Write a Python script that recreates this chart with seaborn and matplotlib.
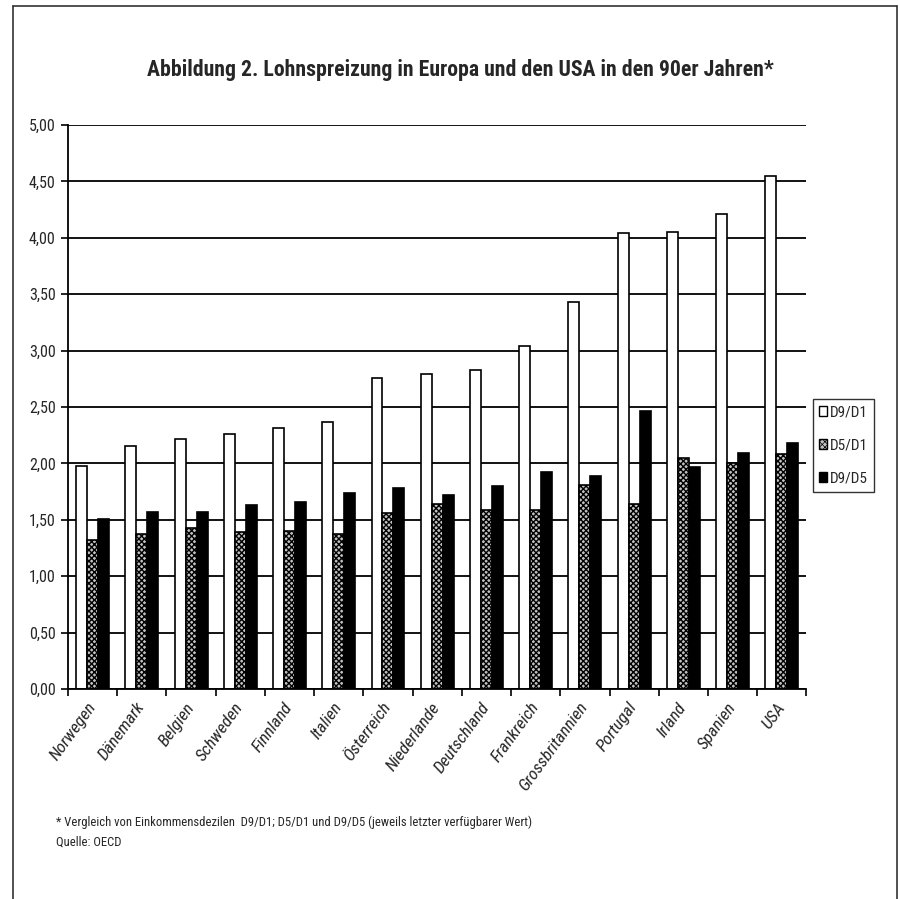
import matplotlib
matplotlib.use("Agg")
import matplotlib.pyplot as plt
from matplotlib import font_manager as fm
from matplotlib.lines import Line2D
from matplotlib.patches import Patch
from matplotlib.ticker import FuncFormatter, MultipleLocator, FixedLocator
import pandas as pd
import seaborn as sns

# Wage dispersion by country: income decile ratios
countries = ["Norwegen", "Dänemark", "Belgien", "Schweden", "Finnland", "Italien",
             "Österreich", "Niederlande", "Deutschland", "Frankreich",
             "Grossbritannien", "Portugal", "Irland", "Spanien", "USA"]
d9_d1 = [1.98, 2.15, 2.22, 2.26, 2.31, 2.37, 2.76, 2.79, 2.83, 3.04, 3.43, 4.04, 4.05, 4.21, 4.55]
d5_d1 = [1.32, 1.37, 1.43, 1.39, 1.40, 1.37, 1.56, 1.64, 1.59, 1.59, 1.81, 1.64, 2.05, 2.00, 2.08]
d9_d5 = [1.51, 1.57, 1.57, 1.63, 1.66, 1.74, 1.78, 1.72, 1.80, 1.92, 1.89, 2.46, 1.97, 2.09, 2.18]
series = ["D9/D1", "D5/D1", "D9/D5"]

title = "Abbildung 2. Lohnspreizung in Europa und den USA in den 90er Jahren*"
footnote = "* Vergleich von Einkommensdezilen  D9/D1; D5/D1 und D9/D5 (jeweils letzter verfügbarer Wert)"
source = "Quelle: OECD"

df = pd.DataFrame({
    "Land": countries * 3,
    "Serie": [s for s in series for _ in countries],
    "Wert": d9_d1 + d5_d1 + d9_d5,
})

sns.set_theme(style="white")
plt.rcParams["font.family"] = ["Liberation Sans", "DejaVu Sans"]


def narrow_font(weight="normal", italic=False):
    """Pick a condensed sans-serif face if one is installed."""
    wanted_names = ["Liberation Sans Narrow", "Arial Narrow", "Roboto Condensed",
                    "Open Sans Condensed"]
    fonts = fm.fontManager.ttflist
    def ok(f):
        is_bold = (f.weight in ("bold", 700) or (isinstance(f.weight, int) and f.weight >= 600))
        is_it = f.style in ("italic", "oblique")
        return is_bold == (weight == "bold") and is_it == italic
    for name in wanted_names:
        for f in fonts:
            if f.name == name and ok(f):
                return fm.FontProperties(fname=f.fname)
    for f in fonts:
        if f.name == "DejaVu Sans" and "Condensed" in f.fname and ok(f):
            return fm.FontProperties(fname=f.fname)
    if italic:
        # no condensed italic face: keep the condensed upright one
        return narrow_font(weight, italic=False)
    return fm.FontProperties(family=["Liberation Sans", "DejaVu Sans"], weight=weight)


fp_title = narrow_font("bold")
fp_text = narrow_font()
fp_italic = narrow_font(italic=True)

fig = plt.figure(figsize=(9, 8.99), dpi=100)
ax = fig.add_axes([0.0756, 0.2336, 0.8204, 0.6274])

stipple_face = "#c2c2c2"
sns.barplot(data=df, x="Land", y="Wert", hue="Serie", order=countries,
            hue_order=series, width=0.67, dodge=True, gap=0,
            palette=["white", stipple_face, "black"], saturation=1,
            edgecolor="black", linewidth=1.2, legend=False, ax=ax)

# Stippled fill for the middle series
plt.rcParams["hatch.color"] = "#4d4d4d"
plt.rcParams["hatch.linewidth"] = 0.5
for bar in ax.containers[1]:
    bar.set_hatch("xxxxxx")

ax.set_ylim(0, 5)
ax.set_xlim(-0.5, len(countries) - 0.5)
ax.yaxis.set_major_locator(MultipleLocator(0.5))
ax.yaxis.set_major_formatter(FuncFormatter(lambda v, _: f"{v:.2f}".replace(".", ",")))
ax.set_axisbelow(True)
ax.grid(axis="y", color="black", linewidth=1.3)
ax.grid(axis="x", visible=False)

for side in ["top", "right"]:
    ax.spines[side].set_visible(False)
for side in ["left", "bottom"]:
    ax.spines[side].set_color("black")
    ax.spines[side].set_linewidth(1.3)

ax.tick_params(axis="y", which="major", direction="out", length=5, width=1.2,
               color="black", left=True, pad=4)
ax.tick_params(axis="x", which="major", length=0, pad=11)
ax.xaxis.set_minor_locator(FixedLocator([i - 0.5 for i in range(len(countries) + 1)]))
ax.tick_params(axis="x", which="minor", direction="out", length=5, width=1.2,
               color="black", bottom=True)
ax.set_xticks(range(len(countries)))
ax.set_xticklabels(countries, rotation=54, ha="right", va="center",
                   rotation_mode="anchor")
ax.set_xlabel("")
ax.set_ylabel("")

t_title = fig.text(0.512, 0.922, title, ha="center", va="center",
                   fontproperties=fp_title, fontsize=17.5)
t_foot = fig.text(0.062, 0.085, footnote, ha="left", va="center",
                  fontproperties=fp_text, fontsize=10)
t_src = fig.text(0.062, 0.063, source, ha="left", va="center",
                 fontproperties=fp_text, fontsize=10)

# Shrink the title if only a wide face is available, so it keeps its length
fig.canvas.draw()
renderer = fig.canvas.get_renderer()
squeeze = min(1.0, 623.0 / t_title.get_window_extent(renderer).width)
t_title.set_fontsize(17.5 * squeeze)
foot_size = 10 * min(1.0, 470.0 / t_foot.get_window_extent(renderer).width)
t_foot.set_fontsize(foot_size)
t_src.set_fontsize(foot_size)

for lab in ax.get_yticklabels():
    lab.set_fontproperties(fp_text)
    lab.set_fontsize(11.5)
for lab in ax.get_xticklabels():
    lab.set_fontproperties(fp_italic)
    lab.set_fontsize(12.5)

handles = [Patch(facecolor="white", edgecolor="black", linewidth=1),
           Patch(facecolor=stipple_face, edgecolor="black", hatch="xxxxxx", linewidth=1),
           Patch(facecolor="black", edgecolor="black", linewidth=1)]
leg_prop = fp_text.copy()
leg_prop.set_size(11)
leg = fig.legend(handles, series, loc="upper left", bbox_to_anchor=(0.903, 0.556),
                 frameon=True, fancybox=False, handlelength=0.55,
                 handleheight=0.6, handletextpad=0.15, labelspacing=1.25,
                 borderpad=0.4, borderaxespad=0, prop=leg_prop)
leg.get_frame().set_edgecolor("black")
leg.get_frame().set_linewidth(1.0)

# Page border
for xs, ys in [([0.014, 0.014], [0.0, 0.993]), ([0.014, 0.997], [0.993, 0.993]),
               ([0.997, 0.997], [0.0, 0.993])]:
    fig.add_artist(Line2D(xs, ys, transform=fig.transFigure, color="#333333", linewidth=1.2))

fig.savefig("out.png", dpi=100, facecolor="white")
